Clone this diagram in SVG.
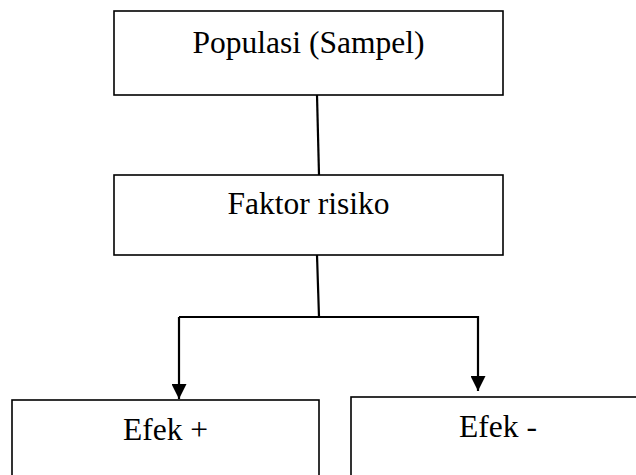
<svg xmlns="http://www.w3.org/2000/svg" width="636" height="475" viewBox="0 0 636 475">
<style>
.box{fill:#fff;stroke:#000;stroke-width:1.6}
.lbl{font-family:"Liberation Serif","Times New Roman",serif;font-size:31.5px;fill:#000;text-anchor:middle}
.con{fill:none;stroke:#000;stroke-width:2.2}
</style>
<defs>
<marker id="arrB" viewBox="0 0 15 15" refX="15" refY="7.5" markerWidth="15" markerHeight="15" markerUnits="userSpaceOnUse" orient="auto">
<path d="M0,0 L15,7.5 L0,15 Z" fill="#000"/>
</marker>
</defs>
<rect width="636" height="475" fill="#fff"/>
<g id="connectors">
<line class="con" x1="317" y1="95" x2="319" y2="175"/>
<line class="con" x1="317" y1="255" x2="319" y2="317"/>
<polyline class="con" points="179,317 478,317 478,391" marker-end="url(#arrB)"/>
<line class="con" x1="179" y1="317" x2="179" y2="399" marker-end="url(#arrB)"/>
</g>
<g id="node-populasi">
<rect class="box" x="114" y="11" width="389" height="84"/>
<text class="lbl" x="308.5" y="53">Populasi (Sampel)</text>
</g>
<g id="node-faktor">
<rect class="box" x="114" y="175" width="389" height="80"/>
<text class="lbl" x="308.5" y="214">Faktor risiko</text>
</g>
<g id="node-efek-plus">
<rect class="box" x="12" y="400" width="307" height="90"/>
<text class="lbl" x="165.5" y="440">Efek +</text>
</g>
<g id="node-efek-minus">
<rect class="box" x="351" y="397" width="294" height="93"/>
<text class="lbl" x="498" y="437">Efek -</text>
</g>
</svg>
